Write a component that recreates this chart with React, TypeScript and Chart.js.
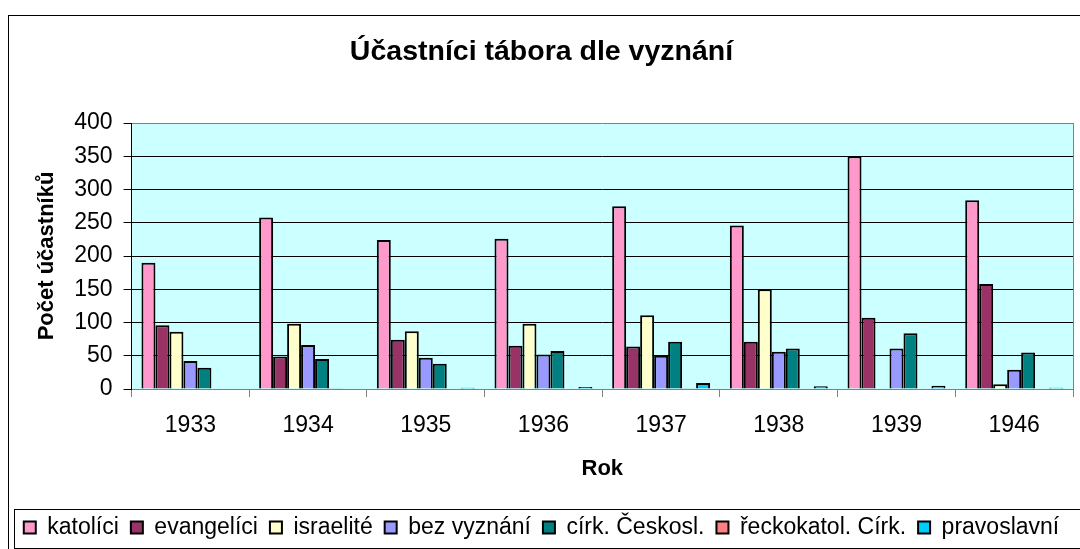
import React, { useEffect, useRef } from 'react';
import { Chart, registerables } from 'chart.js';

Chart.register(...registerables);

const years = ['1933', '1934', '1935', '1936', '1937', '1938', '1939', '1946'];
const katolici = [190, 258, 224, 226, 275, 246, 350, 284];
const evangelici = [96, 49, 74, 65, 64, 71, 107, 158];
const israelite = [86, 98, 87, 98, 111, 150, 0, 7];
const bezVyznani = [42, 66, 47, 52, 50, 56, 61, 29];
const cirkCeskosl = [32, 45, 38, 57, 71, 61, 84, 55];
const reckokatol = [0, 1, 0, 0, 1, 0, 0, 0];
const pravoslavni = [0, 0, 2, 3, 9, 4, 5, 2];

const seriesNames = [
  'katolíci',
  'evangelíci',
  'israelité',
  'bez vyznání',
  'círk. Českosl.',
  'řeckokatol. Círk.',
  'pravoslavní',
];
const seriesValues = [katolici, evangelici, israelite, bezVyznani, cirkCeskosl, reckokatol, pravoslavni];
const seriesColors = ['#FF99CC', '#993366', '#FFFFCC', '#9999FF', '#008080', '#FF8080', '#00CCFF'];

const FONT = "'Liberation Sans', Arial, Helvetica, sans-serif";

const framePlugin = {
  id: 'frame',
  beforeDraw(chart: any) {
    const { ctx, chartArea: a } = chart;
    ctx.save();
    ctx.fillStyle = '#CCFFFF';
    ctx.fillRect(a.left, a.top, a.right - a.left, a.bottom - a.top);
    ctx.restore();
  },
  afterDraw(chart: any) {
    const { ctx, chartArea: a } = chart;
    ctx.save();
    ctx.lineWidth = 1;
    ctx.strokeStyle = '#808080';
    ctx.beginPath();
    ctx.moveTo(Math.round(a.right) + 0.5, a.top);
    ctx.lineTo(Math.round(a.right) + 0.5, a.bottom);
    ctx.stroke();
    ctx.strokeStyle = '#000';
    ctx.strokeRect(8.5, 15.5, 1200, 1000);
    ctx.strokeRect(14.5, 509.5, 1200, 39);
    ctx.restore();
  },
};

export default function App() {
  const ref = useRef<HTMLCanvasElement | null>(null);

  useEffect(() => {
    if (!ref.current) return;
    const chart = new Chart(ref.current, {
      type: 'bar',
      data: {
        labels: years,
        datasets: seriesNames.map((name, i) => ({
          label: name,
          data: seriesValues[i],
          backgroundColor: seriesColors[i],
          borderColor: '#000',
          borderWidth: 2,
          categoryPercentage: 0.832,
          barPercentage: 1,
        })),
      },
      options: {
        animation: false,
        responsive: false,
        devicePixelRatio: 1,
        layout: { padding: { left: 10, right: 7, top: 15, bottom: 0 } },
        plugins: {
          title: {
            display: true,
            text: 'Účastníci tábora dle vyznání',
            color: '#000',
            font: { family: FONT, size: 28.5, weight: 'bold' },
            padding: { top: 20, bottom: 53.8 },
          },
          legend: {
            position: 'bottom',
            labels: {
              color: '#000',
              font: { family: FONT, size: 23 },
              boxWidth: 12,
              boxHeight: 12,
              padding: 12,
            },
          },
          tooltip: { enabled: false },
        },
        scales: {
          x: {
            grid: {
              drawOnChartArea: false,
              drawTicks: true,
              tickLength: 8,
              color: '#808080',
              offset: true,
            },
            border: { color: '#808080' },
            ticks: { color: '#000', font: { family: FONT, size: 23 }, padding: 15.2 },
            title: {
              display: true,
              text: 'Rok',
              color: '#000',
              font: { family: FONT, size: 22, weight: 'bold' },
              padding: { top: 0.8, bottom: 21.8 },
            },
          },
          y: {
            min: 0,
            max: 400,
            ticks: { stepSize: 50, autoSkip: false, color: '#000', font: { family: FONT, size: 23 }, padding: 11 },
            grid: {
              tickLength: 8,
              color: (c: any) => (c.tick && (c.tick.value === 400 || c.tick.value === 0) ? '#808080' : '#000'),
              tickColor: '#000',
            },
            border: { color: '#000' },
            title: {
              display: true,
              text: 'Počet účastníků',
              color: '#000',
              font: { family: FONT, size: 22, weight: 'bold' },
              padding: { top: 23.8, bottom: 3 },
            },
          },
        },
      },
      plugins: [framePlugin],
    });
    return () => chart.destroy();
  }, []);

  return (
    <div style={{ position: 'absolute', left: 0, top: 0, width: 1080, height: 549, background: '#fff' }}>
      <canvas ref={ref} width={1080} height={549} style={{ display: 'block', width: 1080, height: 549 }} />
    </div>
  );
}
